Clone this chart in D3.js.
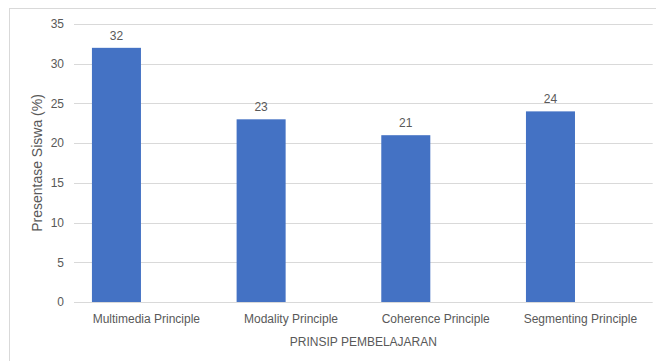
<!DOCTYPE html>
<html lang="id">
<head>
  <meta charset="UTF-8">
  <title>Prinsip Pembelajaran</title>
  <style>
    body { margin: 0; padding: 0; background: #fff; }
    svg text { font-family: "Liberation Sans", Arial, sans-serif; fill: #595959; }
    .grid line { stroke: #d9d9d9; stroke-width: 1; }
  </style>
</head>
<body>
  <div id="chart"></div>
  <script src="https://d3js.org/d3.v7.min.js"></script>
  <script>
    const categories = ["Multimedia Principle", "Modality Principle", "Coherence Principle", "Segmenting Principle"];
    const values = [32, 23, 21, 24];
    const yTicks = [0, 5, 10, 15, 20, 25, 30, 35];

    const width = 656;
    const height = 361;
    const margin = { top: 24, right: 3.3, bottom: 59, left: 74 };

    const svg = d3.select("#chart")
      .append("svg")
      .attr("width", width)
      .attr("height", height);

    // outer chart border (cropped at right/bottom in the original)
    svg.append("rect")
      .attr("x", 9.5)
      .attr("y", 8.5)
      .attr("width", width + 20)
      .attr("height", height + 20)
      .attr("fill", "none")
      .attr("stroke", "#d9d9d9");

    const x = d3.scaleBand()
      .domain(categories)
      .range([margin.left, width - margin.right]);

    // two slots per category, second one empty (as in the source spreadsheet)
    const xInner = d3.scaleBand()
      .domain(["siswa", "kosong"])
      .range([0, x.bandwidth()])
      .paddingInner(0.18)
      .paddingOuter(0.3);

    const y = d3.scaleLinear()
      .domain([0, 35])
      .range([height - margin.bottom, margin.top]);

    // gridlines
    svg.append("g")
      .attr("class", "grid")
      .selectAll("line")
      .data(yTicks)
      .enter()
      .append("line")
      .attr("x1", margin.left)
      .attr("x2", width - margin.right)
      .attr("y1", d => Math.round(y(d)) + 0.5)
      .attr("y2", d => Math.round(y(d)) + 0.5);

    // y axis labels
    const yAxis = svg.append("g")
      .attr("transform", `translate(${margin.left - 10},0)`)
      .call(d3.axisLeft(y).tickValues(yTicks).tickSize(0).tickPadding(0));
    yAxis.select(".domain").remove();
    yAxis.selectAll("text")
      .attr("font-size", 12)
      .style("font-family", "'Liberation Sans', Arial, sans-serif")
      .attr("fill", "#595959");

    // bars
    svg.append("g")
      .selectAll("rect")
      .data(values)
      .enter()
      .append("rect")
      .attr("x", (d, i) => x(categories[i]) + xInner("siswa"))
      .attr("y", d => y(d))
      .attr("width", xInner.bandwidth())
      .attr("height", d => y(0) - y(d))
      .attr("fill", "#4472c4");

    // value labels
    svg.append("g")
      .selectAll("text")
      .data(values)
      .enter()
      .append("text")
      .attr("x", (d, i) => x(categories[i]) + xInner("siswa") + xInner.bandwidth() / 2)
      .attr("y", d => y(d) - 8)
      .attr("text-anchor", "middle")
      .attr("font-size", 12)
      .text(d => d);

    // x axis labels
    const xAxis = svg.append("g")
      .attr("transform", `translate(0,${height - margin.bottom})`)
      .call(d3.axisBottom(x).tickSize(0).tickPadding(12));
    xAxis.select(".domain").remove();
    xAxis.selectAll("text")
      .attr("font-size", 12)
      .style("font-family", "'Liberation Sans', Arial, sans-serif")
      .attr("fill", "#595959");

    // axis titles
    svg.append("text")
      .attr("x", (margin.left + width - margin.right) / 2)
      .attr("y", 346)
      .attr("text-anchor", "middle")
      .attr("font-size", 12)
      .text("PRINSIP PEMBELAJARAN");

    svg.append("text")
      .attr("transform", `translate(42,${(y(0) + y(35)) / 2}) rotate(-90)`)
      .attr("text-anchor", "middle")
      .attr("font-size", 14)
      .text("Presentase Siswa (%)");
  </script>
</body>
</html>
